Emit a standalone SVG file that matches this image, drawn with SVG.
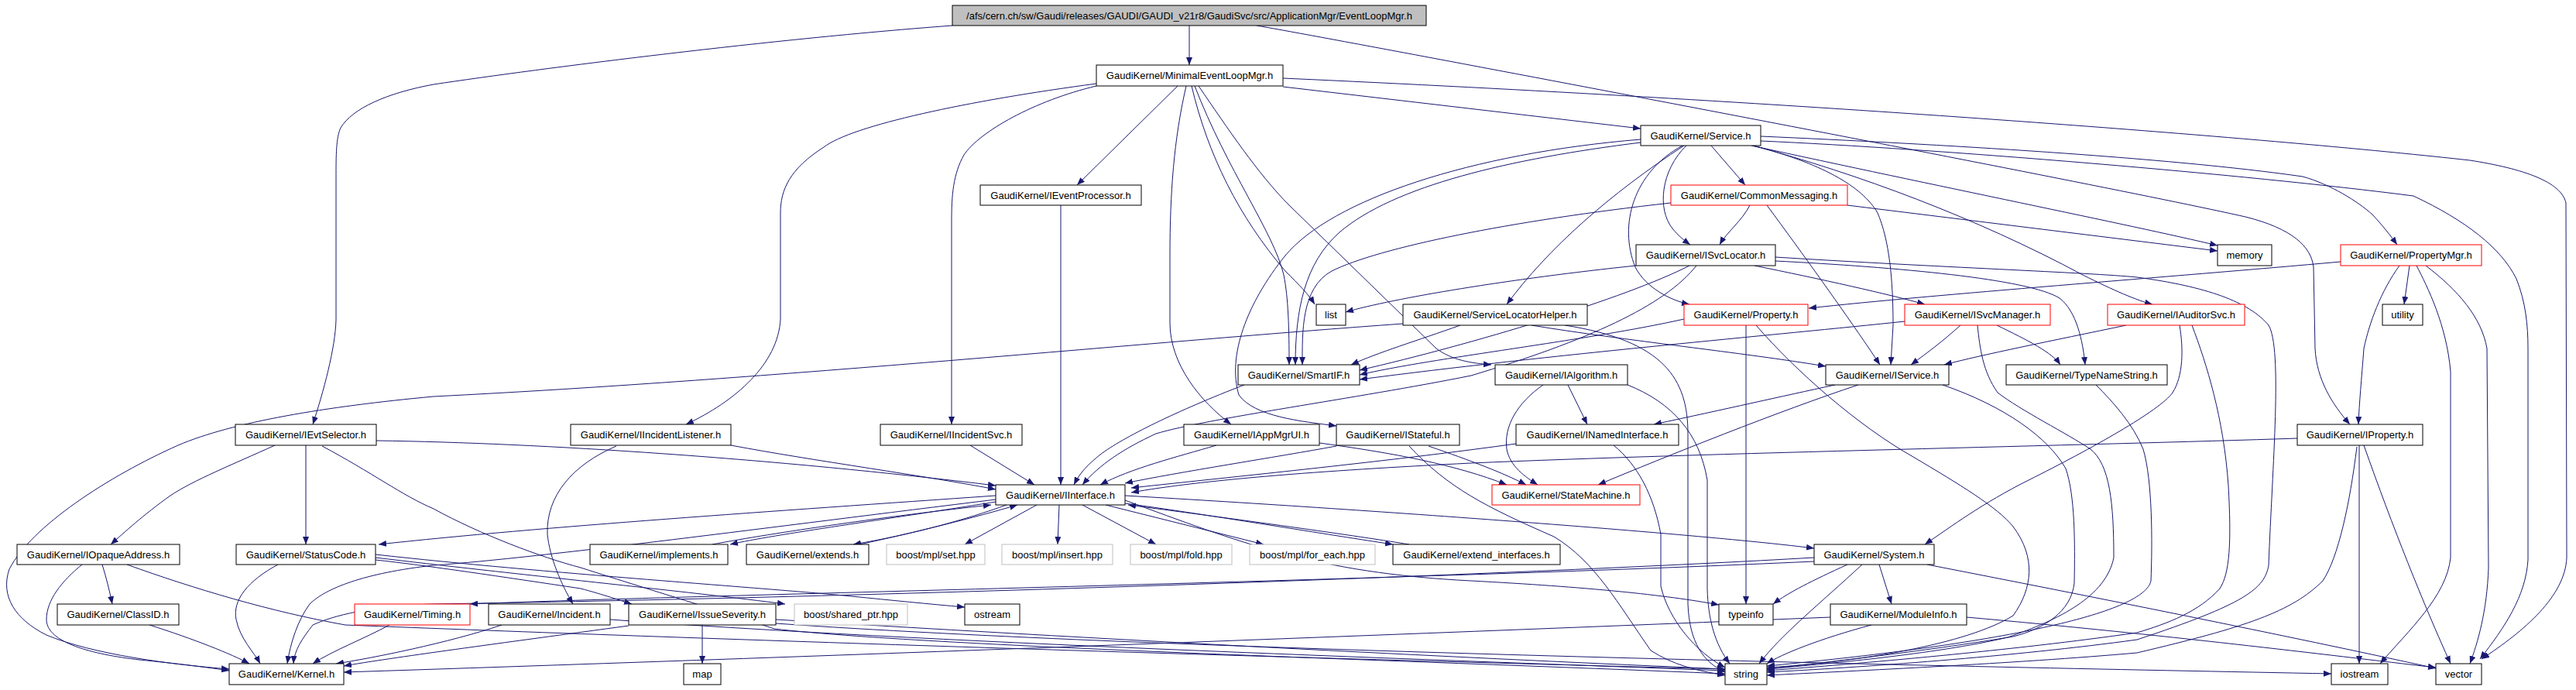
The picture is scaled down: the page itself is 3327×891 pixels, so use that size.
<svg xmlns="http://www.w3.org/2000/svg" width="3327" height="891" viewBox="0 0 3327 891">
<defs>
<marker id="a" markerUnits="userSpaceOnUse" markerWidth="11" markerHeight="8" refX="10" refY="4" orient="auto"><path d="M0,0 L10,4 L0,8 z" fill="#191970"/></marker>
<style>
.e path{fill:none;stroke:#191970;stroke-width:1;marker-end:url(#a)}
.n rect{fill:#fff;stroke:#000;stroke-width:1}
.n.r rect{stroke:#ff0000}
.n.g rect{stroke:#bfbfbf}
.n.root rect{fill:#bfbfbf}
.n text{font-family:"Liberation Sans",Arial,Helvetica,sans-serif;font-size:13px;text-anchor:middle;fill:#000}
</style>
</defs>
<rect width="3327" height="891" fill="#fff"/>
<g id="edges" class="e">
<path d="M1536,33 L1536,84"/>
<path d="M1230,33 C1000,50 700,88 560,109 C500,120 455,140 440,165 C434,178 434,200 434,230 L434,413 C433,450 418,505 404,548"/>
<path d="M1623,33 C1750,55 2700,235 2900,280 C2960,295 2985,318 2988,345 L2990,450 C2992,490 3012,522 3035,548"/>
<path d="M1657,112 L2119,166"/>
<path d="M1521,111 L1391,239"/>
<path d="M1416,108 C1250,130 1100,162 1064,190 C1020,218 1008,245 1008,275 L1008,412 C1005,470 950,518 886,548"/>
<path d="M1416,111 C1336,130 1265,170 1245,200 C1231,225 1229,252 1229,285 L1229,548"/>
<path d="M1532,111 C1516,180 1511,250 1511,330 L1511,417 C1511,470 1550,518 1590,548"/>
<path d="M1539,111 C1560,200 1600,280 1660,350 C1678,368 1690,380 1698,393"/>
<path d="M1543,111 C1585,220 1645,300 1658,355 C1664,385 1665,425 1665,471"/>
<path d="M1548,111 C1585,165 1625,225 1665,265 L1855,450 C1875,465 1900,469 1926,471"/>
<path d="M1657,101 C2300,130 2900,175 3190,207 C3260,218 3308,235 3314,262 L3315,720 C3313,770 3260,815 3205,851"/>
<path d="M2210,188 L2254,239"/>
<path d="M2178,188 C2145,220 2140,270 2160,295 C2168,305 2176,311 2183,316"/>
<path d="M2173,188 C2110,222 2090,290 2112,345 C2126,372 2158,388 2182,393"/>
<path d="M2175,188 C2080,250 2000,320 1946,393"/>
<path d="M2119,184 C1950,205 1800,240 1730,300 C1685,340 1673,400 1673,471"/>
<path d="M2119,180 C1900,198 1720,258 1660,330 C1610,392 1585,460 1600,510 C1620,538 1680,544 1726,550"/>
<path d="M2274,176 C2500,186 2800,203 2974,228 C3010,238 3045,260 3064,277 C3078,292 3088,305 3096,316"/>
<path d="M2274,182 C2500,192 2900,225 3117,253 C3185,285 3230,320 3250,360 C3262,390 3265,420 3265,450 L3265,723 C3262,770 3235,810 3203,851"/>
<path d="M2264,188 C2350,210 2405,240 2425,275 C2440,310 2445,360 2445,420 L2442,471"/>
<path d="M2264,188 C2400,225 2550,280 2690,355 C2730,375 2760,388 2780,393"/>
<path d="M2262,188 C2500,240 2750,290 2864,317"/>
<path d="M2260,265 C2250,285 2230,300 2221,316"/>
<path d="M2386,265 L2864,324"/>
<path d="M2282,265 C2330,330 2380,400 2414,450 L2428,471"/>
<path d="M2158,262 C1950,285 1780,320 1720,350 C1680,372 1682,430 1682,471"/>
<path d="M2113,343 C1950,360 1800,385 1738,403"/>
<path d="M2266,343 C2350,360 2440,380 2486,393"/>
<path d="M2293,337 C2450,345 2620,360 2660,385 C2682,402 2690,440 2693,471"/>
<path d="M2293,332 C2500,345 2700,352 2760,358 C2850,370 2905,390 2930,420 C2948,450 2935,600 2930,730 C2925,760 2900,780 2760,826 C2600,848 2400,862 2282,868"/>
<path d="M2182,343 C2100,385 1900,445 1756,478"/>
<path d="M2191,343 C2150,395 2050,440 1900,485 C1750,515 1560,540 1493,560 C1450,580 1420,600 1398,626"/>
<path d="M1812,418 C1500,440 1000,490 560,512 C420,525 300,545 230,575 C140,615 40,680 12,735 C0,770 20,800 60,820 C120,845 220,858 296,864"/>
<path d="M1886,420 C1830,440 1780,455 1745,471"/>
<path d="M1978,420 C2100,440 2250,455 2358,473"/>
<path d="M2021,420 C2150,440 2180,490 2180,560 L2180,780 C2182,830 2200,855 2228,868"/>
<path d="M2255,420 L2255,780"/>
<path d="M2175,412 C2050,440 1850,462 1756,484"/>
<path d="M2268,420 C2320,480 2400,550 2471,590 C2530,625 2580,655 2600,680 C2630,720 2625,760 2600,795 C2540,832 2400,855 2282,862"/>
<path d="M2460,415 C2300,432 2000,458 1756,490"/>
<path d="M2532,420 C2510,440 2490,455 2468,471"/>
<path d="M2554,420 C2557,450 2561,480 2580,507 C2610,530 2670,560 2700,580 C2725,600 2730,650 2730,720 C2720,770 2660,800 2593,823 C2500,845 2350,858 2282,864"/>
<path d="M2579,420 C2620,440 2650,455 2661,471"/>
<path d="M2746,420 C2650,440 2560,458 2511,471"/>
<path d="M2815,420 C2820,450 2820,485 2806,507 C2790,530 2700,580 2620,620 C2560,650 2520,680 2486,703"/>
<path d="M2831,420 C2850,470 2872,540 2878,627 C2882,700 2880,740 2867,760 C2840,790 2800,805 2760,817 C2600,840 2400,857 2282,866"/>
<path d="M2707,497 C2730,520 2755,548 2768,580 C2780,620 2780,700 2778,750 C2770,790 2600,830 2282,860"/>
<path d="M2370,497 C2300,512 2230,528 2136,548"/>
<path d="M2400,497 C2300,530 2150,590 2064,626"/>
<path d="M2509,497 C2590,525 2645,565 2668,605 C2680,640 2680,700 2679,753 C2675,790 2640,812 2600,822 C2480,842 2350,856 2282,864"/>
<path d="M1958,573 C1800,595 1600,615 1461,630"/>
<path d="M2084,575 C2115,600 2136,640 2145,690 L2145,757 C2155,800 2190,842 2228,862"/>
<path d="M2025,497 L2050,548"/>
<path d="M1993,497 C1960,520 1942,550 1946,580 C1950,602 1970,616 1986,626"/>
<path d="M2102,497 C2160,520 2195,560 2205,620 L2205,760 C2206,800 2215,832 2234,857"/>
<path d="M1726,576 C1650,590 1520,610 1453,624"/>
<path d="M1845,576 C1900,595 1940,610 1971,626"/>
<path d="M1820,576 C1870,630 1920,655 2007,693 C2060,725 2090,780 2132,840 C2160,858 2190,866 2228,872"/>
<path d="M1571,575 C1520,590 1460,605 1421,626"/>
<path d="M1704,572 C1800,585 1880,600 1946,626"/>
<path d="M2967,566 C2700,575 2200,585 1900,598 C1700,608 1550,620 1461,636"/>
<path d="M3047,575 L3047,857"/>
<path d="M3053,575 C3090,680 3130,780 3165,857"/>
<path d="M3044,577 C3035,650 3020,720 3000,750 C2960,790 2900,810 2760,843 C2600,857 2400,866 2282,872"/>
<path d="M3023,338 C2800,358 2500,380 2336,398"/>
<path d="M3099,343 C3075,376 3060,417 3053,450 C3050,490 3047,520 3046,548"/>
<path d="M3112,343 L3105,393"/>
<path d="M3121,343 C3135,370 3160,420 3165,480 L3165,720 C3160,770 3110,815 3074,857"/>
<path d="M3133,343 C3175,375 3205,410 3212,450 L3214,733 C3212,790 3200,830 3190,857"/>
<path d="M355,575 C300,600 250,620 220,640 C185,665 160,688 143,703"/>
<path d="M395,575 L395,703"/>
<path d="M416,576 C480,610 520,640 560,657 C620,690 700,720 750,733 C850,765 950,795 1000,812 C1200,835 1800,852 2228,870"/>
<path d="M486,569 C700,572 1000,592 1286,627"/>
<path d="M132,729 C137,745 142,765 145,780"/>
<path d="M106,729 C80,750 60,775 60,800 C60,830 120,845 180,852 C230,857 270,862 296,866"/>
<path d="M164,729 C250,760 350,790 446,807 C900,825 1600,848 2228,864"/>
<path d="M193,807 C250,825 300,845 322,857"/>
<path d="M359,729 C320,750 300,775 305,800 C310,825 328,842 336,857"/>
<path d="M485,723 C550,730 650,745 750,760 C780,768 800,775 816,780"/>
<path d="M485,716 C700,740 1000,760 1100,770 C1150,775 1200,780 1246,784"/>
<path d="M485,720 C650,740 900,765 1014,780"/>
<path d="M1339,652 L1246,703"/>
<path d="M1368,652 L1366,703"/>
<path d="M1398,652 L1493,703"/>
<path d="M1428,652 L1632,703"/>
<path d="M1453,650 C1550,663 1700,688 1799,703"/>
<path d="M1820,703 C1740,690 1580,668 1457,652"/>
<path d="M1300,652 C1250,670 1180,690 1102,703"/>
<path d="M1110,703 C1180,688 1260,668 1314,652"/>
<path d="M1286,648 C1150,670 1000,690 943,703"/>
<path d="M920,703 C1000,688 1150,666 1280,652"/>
<path d="M1286,640 C1000,660 700,680 489,703"/>
<path d="M1286,645 C1000,680 700,720 560,730 C470,740 420,760 400,780 C385,800 375,830 371,857"/>
<path d="M1453,640 C1800,660 2200,690 2343,708"/>
<path d="M1453,646 C1600,700 1700,740 1900,750 C2050,758 2150,768 2220,781"/>
<path d="M2386,729 C2340,750 2310,765 2290,780"/>
<path d="M2427,729 L2443,780"/>
<path d="M2405,729 C2350,780 2300,820 2272,857"/>
<path d="M2489,729 C2700,770 2950,820 3146,863"/>
<path d="M2343,720 C2000,740 1200,770 560,780 C480,782 430,795 404,807 C390,825 380,840 379,857"/>
<path d="M2343,725 C1800,750 900,768 607,780"/>
<path d="M2364,797 C1800,820 1000,850 444,868"/>
<path d="M2417,807 C2350,825 2300,845 2282,857"/>
<path d="M2540,797 C2800,820 3000,845 3146,862"/>
<path d="M503,807 C470,825 430,840 404,857"/>
<path d="M648,807 C580,830 480,850 434,857"/>
<path d="M788,800 C1200,830 1800,850 2228,866"/>
<path d="M907,807 L907,857"/>
<path d="M812,808 C650,830 500,850 444,860"/>
<path d="M1002,800 C1500,830 1900,850 2228,864"/>
<path d="M1002,805 C1500,840 2500,860 3011,870"/>
<path d="M944,575 C1050,595 1200,615 1286,632"/>
<path d="M796,576 C740,600 705,640 707,690 C710,720 725,755 740,780"/>
<path d="M1253,575 L1336,626"/>
<path d="M1370,265 L1370,626"/>
<path d="M1607,497 C1521,530 1450,565 1421,587 C1405,600 1395,610 1387,626"/>
</g>
<g id="n_root" class="n root"><rect x="1230" y="7" width="612" height="26"/><text x="1536" y="24.5">/afs/cern.ch/sw/Gaudi/releases/GAUDI/GAUDI_v21r8/GaudiSvc/src/ApplicationMgr/EventLoopMgr.h</text></g>
<g id="n_MinimalEventLoopMgr" class="n"><rect x="1416" y="84" width="241" height="27"/><text x="1536.5" y="102">GaudiKernel/MinimalEventLoopMgr.h</text></g>
<g id="n_Service" class="n"><rect x="2119" y="162" width="155" height="26"/><text x="2196.5" y="179.5">GaudiKernel/Service.h</text></g>
<g id="n_IEventProcessor" class="n"><rect x="1266" y="239" width="208" height="26"/><text x="1370" y="256.5">GaudiKernel/IEventProcessor.h</text></g>
<g id="n_CommonMessaging" class="n r"><rect x="2158" y="239" width="228" height="26"/><text x="2272" y="256.5">GaudiKernel/CommonMessaging.h</text></g>
<g id="n_ISvcLocator" class="n"><rect x="2113" y="316" width="180" height="27"/><text x="2203" y="334">GaudiKernel/ISvcLocator.h</text></g>
<g id="n_memory" class="n"><rect x="2864" y="316" width="70" height="27"/><text x="2899" y="334">memory</text></g>
<g id="n_PropertyMgr" class="n r"><rect x="3023" y="316" width="182" height="27"/><text x="3114" y="334">GaudiKernel/PropertyMgr.h</text></g>
<g id="n_list" class="n"><rect x="1700" y="393" width="38" height="27"/><text x="1719" y="411">list</text></g>
<g id="n_ServiceLocatorHelper" class="n"><rect x="1812" y="393" width="238" height="27"/><text x="1931" y="411">GaudiKernel/ServiceLocatorHelper.h</text></g>
<g id="n_Property" class="n r"><rect x="2175" y="393" width="160" height="27"/><text x="2255" y="411">GaudiKernel/Property.h</text></g>
<g id="n_ISvcManager" class="n r"><rect x="2460" y="393" width="188" height="27"/><text x="2554" y="411">GaudiKernel/ISvcManager.h</text></g>
<g id="n_IAuditorSvc" class="n r"><rect x="2722" y="393" width="177" height="27"/><text x="2810.5" y="411">GaudiKernel/IAuditorSvc.h</text></g>
<g id="n_utility" class="n"><rect x="3077" y="393" width="52" height="27"/><text x="3103" y="411">utility</text></g>
<g id="n_SmartIF" class="n"><rect x="1599" y="471" width="157" height="26"/><text x="1677.5" y="488.5">GaudiKernel/SmartIF.h</text></g>
<g id="n_IAlgorithm" class="n"><rect x="1931" y="471" width="171" height="26"/><text x="2016.5" y="488.5">GaudiKernel/IAlgorithm.h</text></g>
<g id="n_IService" class="n"><rect x="2358" y="471" width="159" height="26"/><text x="2437.5" y="488.5">GaudiKernel/IService.h</text></g>
<g id="n_TypeNameString" class="n"><rect x="2591" y="471" width="208" height="26"/><text x="2695" y="488.5">GaudiKernel/TypeNameString.h</text></g>
<g id="n_IEvtSelector" class="n"><rect x="304" y="548" width="182" height="27"/><text x="395" y="566">GaudiKernel/IEvtSelector.h</text></g>
<g id="n_IIncidentListener" class="n"><rect x="737" y="548" width="207" height="27"/><text x="840.5" y="566">GaudiKernel/IIncidentListener.h</text></g>
<g id="n_IIncidentSvc" class="n"><rect x="1137" y="548" width="183" height="27"/><text x="1228.5" y="566">GaudiKernel/IIncidentSvc.h</text></g>
<g id="n_IAppMgrUI" class="n"><rect x="1529" y="548" width="175" height="27"/><text x="1616.5" y="566">GaudiKernel/IAppMgrUI.h</text></g>
<g id="n_IStateful" class="n"><rect x="1726" y="548" width="159" height="27"/><text x="1805.5" y="566">GaudiKernel/IStateful.h</text></g>
<g id="n_INamedInterface" class="n"><rect x="1958" y="548" width="210" height="27"/><text x="2063" y="566">GaudiKernel/INamedInterface.h</text></g>
<g id="n_IProperty" class="n"><rect x="2967" y="548" width="162" height="27"/><text x="3048" y="566">GaudiKernel/IProperty.h</text></g>
<g id="n_IInterface" class="n"><rect x="1286" y="626" width="167" height="26"/><text x="1369.5" y="643.5">GaudiKernel/IInterface.h</text></g>
<g id="n_StateMachine" class="n r"><rect x="1927" y="626" width="191" height="26"/><text x="2022.5" y="643.5">GaudiKernel/StateMachine.h</text></g>
<g id="n_IOpaqueAddress" class="n"><rect x="22" y="703" width="210" height="26"/><text x="127" y="720.5">GaudiKernel/IOpaqueAddress.h</text></g>
<g id="n_StatusCode" class="n"><rect x="305" y="703" width="180" height="26"/><text x="395" y="720.5">GaudiKernel/StatusCode.h</text></g>
<g id="n_implements" class="n"><rect x="762" y="703" width="178" height="26"/><text x="851" y="720.5">GaudiKernel/implements.h</text></g>
<g id="n_extends" class="n"><rect x="964" y="703" width="158" height="26"/><text x="1043" y="720.5">GaudiKernel/extends.h</text></g>
<g id="n_set" class="n g"><rect x="1145" y="703" width="127" height="26"/><text x="1208.5" y="720.5">boost/mpl/set.hpp</text></g>
<g id="n_insert" class="n g"><rect x="1294" y="703" width="143" height="26"/><text x="1365.5" y="720.5">boost/mpl/insert.hpp</text></g>
<g id="n_fold" class="n g"><rect x="1460" y="703" width="131" height="26"/><text x="1525.5" y="720.5">boost/mpl/fold.hpp</text></g>
<g id="n_for_each" class="n g"><rect x="1614" y="703" width="162" height="26"/><text x="1695" y="720.5">boost/mpl/for_each.hpp</text></g>
<g id="n_extend_interfaces" class="n"><rect x="1799" y="703" width="216" height="26"/><text x="1907" y="720.5">GaudiKernel/extend_interfaces.h</text></g>
<g id="n_System" class="n"><rect x="2343" y="703" width="155" height="26"/><text x="2420.5" y="720.5">GaudiKernel/System.h</text></g>
<g id="n_ClassID" class="n"><rect x="74" y="780" width="157" height="27"/><text x="152.5" y="798">GaudiKernel/ClassID.h</text></g>
<g id="n_Timing" class="n r"><rect x="458" y="780" width="149" height="27"/><text x="532.5" y="798">GaudiKernel/Timing.h</text></g>
<g id="n_Incident" class="n"><rect x="631" y="780" width="157" height="27"/><text x="709.5" y="798">GaudiKernel/Incident.h</text></g>
<g id="n_IssueSeverity" class="n"><rect x="812" y="780" width="190" height="27"/><text x="907" y="798">GaudiKernel/IssueSeverity.h</text></g>
<g id="n_shared_ptr" class="n g"><rect x="1026" y="780" width="146" height="27"/><text x="1099" y="798">boost/shared_ptr.hpp</text></g>
<g id="n_ostream" class="n"><rect x="1246" y="780" width="71" height="27"/><text x="1281.5" y="798">ostream</text></g>
<g id="n_typeinfo" class="n"><rect x="2220" y="780" width="70" height="27"/><text x="2255" y="798">typeinfo</text></g>
<g id="n_ModuleInfo" class="n"><rect x="2364" y="780" width="176" height="27"/><text x="2452" y="798">GaudiKernel/ModuleInfo.h</text></g>
<g id="n_Kernel" class="n"><rect x="296" y="857" width="148" height="27"/><text x="370" y="875">GaudiKernel/Kernel.h</text></g>
<g id="n_map" class="n"><rect x="883" y="857" width="48" height="27"/><text x="907" y="875">map</text></g>
<g id="n_string" class="n"><rect x="2228" y="857" width="54" height="27"/><text x="2255" y="875">string</text></g>
<g id="n_iostream" class="n"><rect x="3011" y="857" width="73" height="27"/><text x="3047.5" y="875">iostream</text></g>
<g id="n_vector" class="n"><rect x="3146" y="857" width="59" height="27"/><text x="3175.5" y="875">vector</text></g>
</svg>
